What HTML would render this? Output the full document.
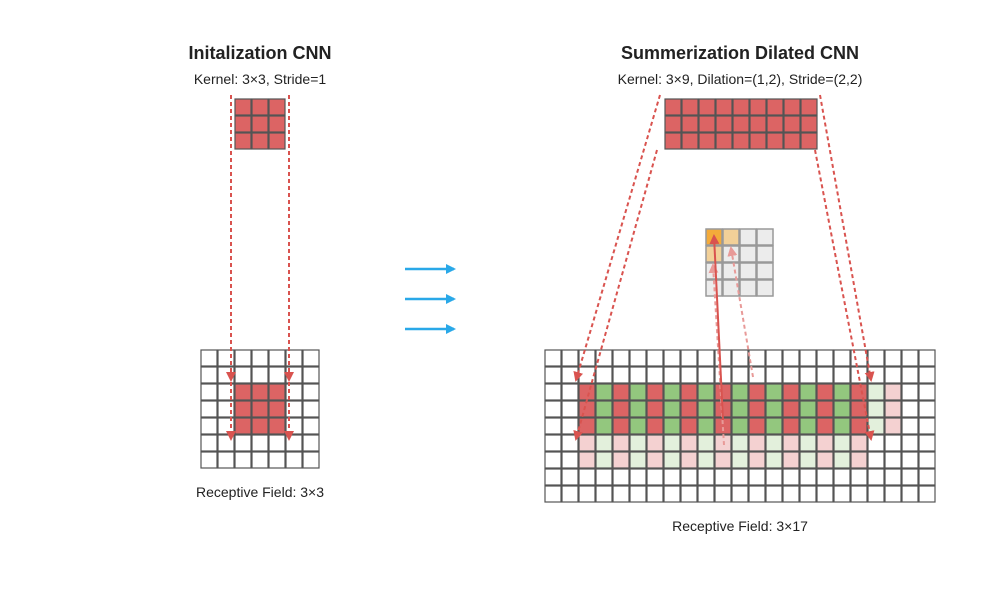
<!DOCTYPE html>
<html><head><meta charset="utf-8"><style>
body{margin:0;background:#fff}
svg{display:block}
text{font-family:"Liberation Sans",Arial,sans-serif;fill:#222}
</style></head><body>
<svg width="1000" height="600" xmlns="http://www.w3.org/2000/svg">
<defs>
<marker id="ah" markerWidth="10" markerHeight="10" refX="8" refY="5" orient="auto" markerUnits="userSpaceOnUse"><path d="M0,0 L10,5 L0,10 z" fill="#d9534f"/></marker>
<marker id="ahf" markerWidth="10" markerHeight="10" refX="8" refY="5" orient="auto" markerUnits="userSpaceOnUse"><path d="M0,0 L10,5 L0,10 z" fill="#e89a98"/></marker>
<marker id="ab" markerWidth="10" markerHeight="10" refX="8" refY="5" orient="auto" markerUnits="userSpaceOnUse"><path d="M0,0 L10,5 L0,10 z" fill="#29a8e8"/></marker>
</defs>
<text x="260" y="59" font-size="18" font-weight="bold" text-anchor="middle">Initalization CNN</text>
<text x="260" y="84" font-size="14" text-anchor="middle">Kernel: 3×3, Stride=1</text>
<text x="740" y="59" font-size="18" font-weight="bold" text-anchor="middle">Summerization Dilated CNN</text>
<text x="740" y="84" font-size="14" text-anchor="middle">Kernel: 3×9, Dilation=(1,2), Stride=(2,2)</text>
<text x="260" y="497" font-size="14" text-anchor="middle">Receptive Field: 3×3</text>
<text x="740" y="531" font-size="14" text-anchor="middle">Receptive Field: 3×17</text>
<g id="grids"></g>
<g stroke="#29a8e8" stroke-width="2.5" marker-end="url(#ab)">
<line x1="405" y1="269" x2="454" y2="269"/><line x1="405" y1="299" x2="454" y2="299"/><line x1="405" y1="329" x2="454" y2="329"/>
</g>
<g stroke="#d9534f" stroke-width="2" stroke-dasharray="4,3" fill="none" marker-end="url(#ah)">
<line x1="231" y1="95" x2="231" y2="380"/><line x1="231" y1="95" x2="231" y2="439"/>
<line x1="289" y1="95" x2="289" y2="380"/><line x1="289" y1="95" x2="289" y2="439"/>
<line x1="660" y1="95" x2="576" y2="380"/><line x1="657" y1="150" x2="576" y2="439"/>
<line x1="820" y1="95" x2="871" y2="380"/><line x1="815" y1="150" x2="871" y2="439"/>
</g>
<g stroke="#e89a98" stroke-width="2" stroke-dasharray="4,3" fill="none" marker-end="url(#ahf)">
<line x1="724" y1="445" x2="713" y2="265"/><line x1="753" y1="377" x2="731" y2="248"/>
</g>
<line x1="723" y1="420" x2="714" y2="236" stroke="#d9534f" stroke-width="2" marker-end="url(#ah)"/>
</svg>
<script>
const g=document.getElementById('grids');let s='';
function c(x,y,f,st,w){s+=`<rect x="${x}" y="${y}" width="16" height="16" fill="${f}" stroke="${st||'#555'}" stroke-width="${w||1.2}"/>`;}
const R='#dc6464',G='#93c77e',LR='#f4d1d1',LG='#e3f0dc';
for(let r=0;r<3;r++)for(let k=0;k<3;k++)c(235+k*17,99+r*17,R);
for(let r=0;r<7;r++)for(let k=0;k<7;k++){let f='#fff';if(r>=2&&r<=4&&k>=2&&k<=4)f=R;c(201+k*17,350+r*17,f);}
for(let r=0;r<3;r++)for(let k=0;k<9;k++)c(665+k*17,99+r*17,R);
for(let r=0;r<4;r++)for(let k=0;k<4;k++){let f='#ececec';if(r==0&&k==0)f='#f4ab3a';else if((r==0&&k==1)||(r==1&&k==0))f='#f2d098';c(706+k*17,229+r*17,f,'#999',1.5);}
for(let r=0;r<9;r++)for(let k=0;k<23;k++){let f='#fff';
 if(k>=2&&k<=18){let ev=(k%2==0);if(r>=2&&r<=4)f=ev?R:G;else if(r==5||r==6)f=ev?LR:LG;}
 else if(r>=2&&r<=4){if(k==19)f=LG;if(k==20)f=LR;}
 c(545+k*17,350+r*17,f);}
g.innerHTML=s;
</script>
</body></html>
